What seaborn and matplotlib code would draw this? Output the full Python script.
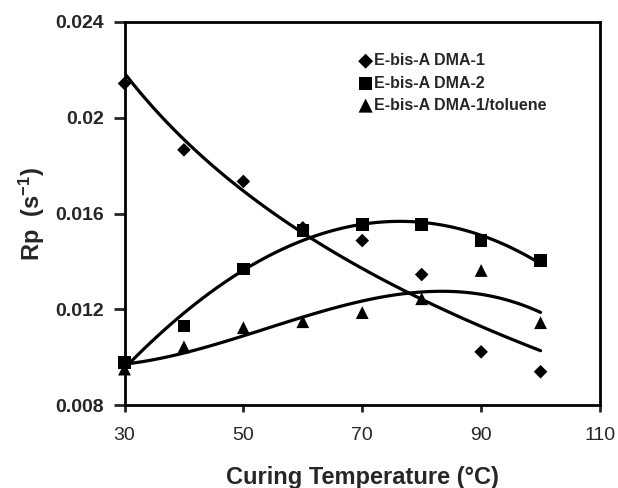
import numpy as np
import pandas as pd
import matplotlib
matplotlib.use("Agg")
import matplotlib.pyplot as plt
import seaborn as sns

temps = [30, 40, 50, 60, 70, 80, 90, 100]
dma1 = [0.02143, 0.01866, 0.01734, 0.01540, 0.01487, 0.01345, 0.01022, 0.00939]
dma2 = [0.00978, 0.01130, 0.01369, 0.01529, 0.01554, 0.01554, 0.01487, 0.01404]
dma1_tol = [0.00950, 0.01043, 0.01123, 0.01148, 0.01186, 0.01244, 0.01362, 0.01144]
series_names = ["E-bis-A DMA-1", "E-bis-A DMA-2", "E-bis-A DMA-1/toluene"]
# trendline types: logarithmic for DMA-1, cubic polynomial for the others
fit_kinds = [("log", 1), ("poly", 3), ("poly", 3)]
xticks = [30, 50, 70, 90, 110]
yticks = [0.008, 0.012, 0.016, 0.02, 0.024]
ytick_labels = ["0.008", "0.012", "0.016", "0.02", "0.024"]

sns.set_style("ticks")
plt.rcParams["font.family"] = ["Liberation Sans", "DejaVu Sans"]
plt.rcParams["mathtext.fontset"] = "custom"
plt.rcParams["mathtext.rm"] = "Liberation Sans:bold"
plt.rcParams["mathtext.it"] = "Liberation Sans:bold"

fig = plt.figure(figsize=(6.18, 4.88), dpi=100)
ax = fig.add_axes([124.5 / 618, 1 - 405 / 488, 475.5 / 618, 383 / 488])

markers = ["D", "s", "^"]
sizes = [48, 81, 85]
for name, vals, mk, sz, (kind, od) in zip(series_names, [dma1, dma2, dma1_tol],
                                         markers, sizes, fit_kinds):
    df = pd.DataFrame({"T": temps, "Rp": vals})
    if kind == "log":
        sns.regplot(data=df, x="T", y="Rp", logx=True, ci=None, scatter=False,
                    truncate=True, ax=ax, line_kws=dict(color="black", lw=2.3))
    else:
        sns.regplot(data=df, x="T", y="Rp", order=od, ci=None, scatter=False,
                    truncate=True, ax=ax, line_kws=dict(color="black", lw=2.3))
    sns.scatterplot(data=df, x="T", y="Rp", marker=mk, s=sz, color="black",
                    edgecolor="none", ax=ax, label=name, zorder=3, clip_on=False)

ax.set_xlim(30, 110)
ax.set_ylim(0.008, 0.024)
ax.set_xticks(xticks)
ax.set_xticklabels([str(t) for t in xticks], fontsize=14)
ax.set_yticks(yticks)
ax.set_yticklabels(ytick_labels, fontsize=14, fontweight="bold")
ax.tick_params(axis="y", length=8, width=2, pad=7)
ax.tick_params(axis="x", length=5, width=2, pad=11)
for sp in ax.spines.values():
    sp.set_linewidth(2)
    sp.set_visible(True)
    sp.set_color("black")

ax.set_xlabel("Curing Temperature (°C)", fontsize=17, fontweight="bold", labelpad=16)
ax.set_ylabel(r"Rp  (s$^{\mathrm{-1}}$)", fontsize=17, fontweight="bold", labelpad=6)

leg = ax.legend(loc="upper left", bbox_to_anchor=(0.497, 0.918), frameon=False,
                prop={"weight": "bold", "size": 11.5}, markerscale=1.1,
                handlelength=0.6, handletextpad=0.2, labelspacing=0.45,
                borderpad=0, borderaxespad=0)

fig.savefig("out.png", dpi=100)
